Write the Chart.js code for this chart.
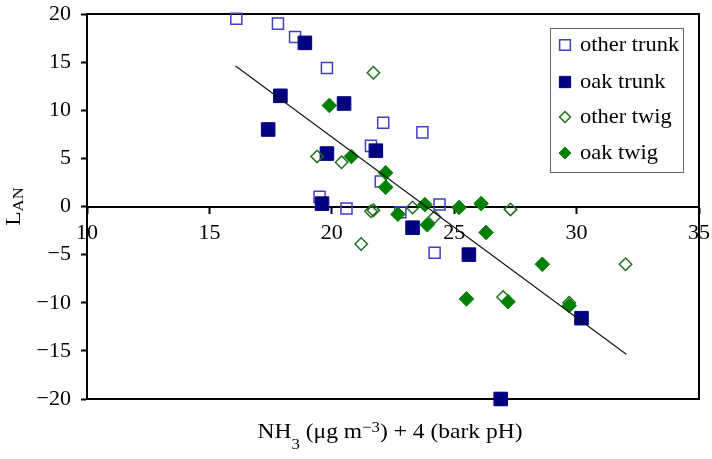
<!DOCTYPE html>
<html>
<head>
<meta charset="utf-8">
<title>L_AN vs NH3 + 4 (bark pH)</title>
<script src="https://cdn.jsdelivr.net/npm/chart.js@4.4.0/dist/chart.umd.min.js"></script>
<style>
    html, body { margin: 0; padding: 0; background: #fff; }
    #wrap { width: 712px; height: 459px; }
</style>
</head>
<body>
<div id="wrap"><canvas id="chart" width="712" height="459"></canvas></div>
<script>
    // --- data ---
    const seriesNames = ['other trunk', 'oak trunk', 'other twig', 'oak twig'];

    const otherTrunkX = [16.1, 17.8, 18.5, 19.8, 22.1, 23.7, 21.6, 22.0, 19.5, 20.6, 22.8, 24.4, 24.2];
    const otherTrunkY = [19.5, 19.0, 17.6, 14.4, 8.7, 7.7, 6.3, 2.6, 1.0, -0.2, -0.6, 0.2, -4.8];

    const oakTrunkX = [18.9, 17.9, 17.4, 20.5, 19.8, 21.8, 19.6, 23.3, 25.6, 26.9, 30.2];
    const oakTrunkY = [17.0, 11.5, 8.0, 10.7, 5.5, 5.8, 0.3, -2.2, -5.0, -20.0, -11.6];

    const otherTwigX = [21.7, 19.4, 20.4, 21.6, 21.7, 23.3, 24.2, 27.3, 21.2, 27.0, 32.0, 29.7];
    const otherTwigY = [13.9, 5.2, 4.6, -0.5, -0.4, -0.1, -1.1, -0.3, -3.9, -9.4, -6.0, -10.0];

    const oakTwigX = [19.9, 20.8, 22.2, 22.2, 22.7, 23.8, 25.2, 26.1, 23.9, 26.3, 25.5, 27.2, 28.6, 29.7];
    const oakTwigY = [10.5, 5.2, 3.5, 2.0, -0.8, 0.2, -0.1, 0.3, -1.9, -2.7, -9.6, -9.9, -6.0, -10.3];

    // fitted line, end points
    const trendX = [16.07, 32.03];
    const trendY = [14.6, -15.35];

    const xTicks = [10, 15, 20, 25, 30, 35];
    const yTicks = [-20, -15, -10, -5, 0, 5, 10, 15, 20];

    const serif = "'Liberation Serif', 'Times New Roman', serif";
    const toPoints = (xs, ys) => xs.map((x, i) => ({ x, y: ys[i] }));
    const minus = v => v < 0 ? '\u2212' + Math.abs(v) : String(v);

    // --- styles per series ---
    const styles = [
        { pointStyle: 'rect', radius: 7.8, bg: 'rgba(0,0,0,0)', border: '#4040c0', bw: 1.5, legendR: 7.6 },
        { pointStyle: 'rect', radius: 9.6, bg: '#000080', border: '#000080', bw: 1, legendR: 8 },
        { pointStyle: 'rectRot', radius: 6.2, bg: 'rgba(0,0,0,0)', border: '#1f6f1f', bw: 1.5, legendR: 5.5 },
        { pointStyle: 'rectRot', radius: 7.3, bg: '#008000', border: '#008000', bw: 1, legendR: 6 }
    ];
    const seriesData = [
        toPoints(otherTrunkX, otherTrunkY),
        toPoints(oakTrunkX, oakTrunkY),
        toPoints(otherTwigX, otherTwigY),
        toPoints(oakTwigX, oakTwigY)
    ];

    const datasets = seriesNames.map((name, i) => ({
        type: 'scatter',
        label: name,
        data: seriesData[i],
        pointStyle: styles[i].pointStyle,
        pointRadius: styles[i].radius,
        pointHoverRadius: styles[i].radius,
        backgroundColor: styles[i].bg,
        borderColor: styles[i].border,
        borderWidth: styles[i].bw,
        order: 10 - i,          // later series drawn on top, like the original
        clip: false
    }));
    datasets.push({
        type: 'line',
        label: '',
        data: toPoints(trendX, trendY),
        borderColor: '#111',
        borderWidth: 1.1,
        pointRadius: 0,
        fill: false,
        order: 0
    });

    // --- small drawing helpers ---
    function drawMarker(ctx, s, x, y) {
        const r = s.legendR;
        ctx.save();
        ctx.lineWidth = s.bw;
        ctx.strokeStyle = s.border;
        ctx.fillStyle = s.bg;
        ctx.beginPath();
        if (s.pointStyle === 'rect') {
            const h = r * Math.SQRT1_2;
            ctx.rect(x - h, y - h, 2 * h, 2 * h);
        } else {
            ctx.moveTo(x, y - r); ctx.lineTo(x + r, y); ctx.lineTo(x, y + r); ctx.lineTo(x - r, y); ctx.closePath();
        }
        ctx.fill();
        ctx.stroke();
        ctx.restore();
    }

    // text runs: [text, size, dy]
    function runsWidth(ctx, runs) {
        return runs.reduce((w, r) => { ctx.font = r[1] + 'px ' + serif; return w + ctx.measureText(r[0]).width; }, 0);
    }
    function drawRuns(ctx, runs) {
        let x = 0;
        runs.forEach(r => {
            ctx.font = r[1] + 'px ' + serif;
            ctx.fillText(r[0], x, r[2]);
            x += ctx.measureText(r[0]).width;
        });
    }

    const decorPlugin = {
        id: 'decor',
        beforeDatasetsDraw(chart) {
            const { ctx, chartArea: a } = chart;
            ctx.save();
            ctx.strokeStyle = '#000';
            ctx.lineWidth = 2;
            ctx.strokeRect(a.left, a.top, a.right - a.left, a.bottom - a.top);
            ctx.restore();
        },
        afterDraw(chart) {
            const { ctx, chartArea: a } = chart;
            const stretch = 1.12;
            ctx.save();
            ctx.fillStyle = '#000';
            ctx.textBaseline = 'alphabetic';

            // x title
            const xRuns = [['NH', 21, 0], ['3', 15, 11], [' (\u03bcg m', 21, 0], ['\u22123', 15, -6], [') + 4 (bark pH)', 21, 0]];
            const xw = runsWidth(ctx, xRuns) * stretch;
            ctx.save();
            ctx.translate((a.left + a.right) / 2 - 3 - xw / 2, 438);
            ctx.scale(stretch, 1);
            drawRuns(ctx, xRuns);
            ctx.restore();

            // y title, rotated
            const yRuns = [['L', 21, 0], ['AN', 15, 3]];
            const yw = runsWidth(ctx, yRuns) * stretch;
            const ym = chart.scales.y.getPixelForValue(0);
            ctx.save();
            ctx.translate(19.5, ym + yw / 2);
            ctx.rotate(-Math.PI / 2);
            ctx.scale(stretch, 1);
            drawRuns(ctx, yRuns);
            ctx.restore();

            // legend box in the top right corner
            const bx = a.right - 149, by = a.top + 14, bw = 133, bh = 144;
            ctx.save();
            ctx.fillStyle = '#fff';
            ctx.fillRect(bx, by, bw, bh);
            ctx.strokeStyle = '#666';
            ctx.lineWidth = 1;
            ctx.strokeRect(bx + 0.5, by + 0.5, bw, bh);
            ctx.restore();
            const rowY = [17, 54, 89, 125];
            chart.data.datasets.forEach((ds, i) => {
                if (!ds.label) return;
                const y = by + rowY[i];
                drawMarker(ctx, styles[i], bx + 15, y);
                ctx.save();
                ctx.fillStyle = '#000';
                ctx.font = '21px ' + serif;
                ctx.textBaseline = 'middle';
                ctx.translate(bx + 30, y);
                ctx.scale(1.07, 1);
                ctx.fillText(ds.label, 0, 0);
                ctx.restore();
            });
            ctx.restore();
        }
    };

    const tickFont = { family: serif, size: 22 };

    new Chart(document.getElementById('chart'), {
        data: { datasets },
        options: {
            responsive: false,
            animation: false,
            events: [],
            layout: { padding: { left: 0, right: 13, top: 14, bottom: 60 } },
            plugins: { legend: { display: false }, tooltip: { enabled: false }, title: { display: false } },
            scales: {
                x: {
                    type: 'linear',
                    position: { y: 0 },
                    min: xTicks[0],
                    max: xTicks[xTicks.length - 1],
                    afterBuildTicks: s => { s.ticks = xTicks.map(v => ({ value: v })); },
                    afterFit: s => { s.height = 0; s.paddingLeft = 0; s.paddingRight = 0; s.paddingTop = 0; s.paddingBottom = 0; },
                    ticks: { font: tickFont, color: '#000', padding: 8, autoSkip: false, maxRotation: 0, callback: minus },
                    grid: { drawOnChartArea: false, drawTicks: true, tickLength: 6, tickWidth: 2, tickColor: '#000' },
                    border: { display: true, color: '#000', width: 2 }
                },
                y: {
                    type: 'linear',
                    position: 'left',
                    min: yTicks[0],
                    max: yTicks[yTicks.length - 1],
                    afterBuildTicks: s => { s.ticks = yTicks.map(v => ({ value: v })); },
                    afterFit: s => { s.width = 87; s.paddingTop = 0; s.paddingBottom = 0; },
                    ticks: { font: tickFont, color: '#000', padding: 10, autoSkip: false, callback: minus },
                    grid: { drawOnChartArea: false, drawTicks: true, tickLength: 6, tickWidth: 2, tickColor: '#000' },
                    border: { display: true, color: '#000', width: 2 }
                }
            }
        },
        plugins: [decorPlugin]
    });
</script>
</body>
</html>
